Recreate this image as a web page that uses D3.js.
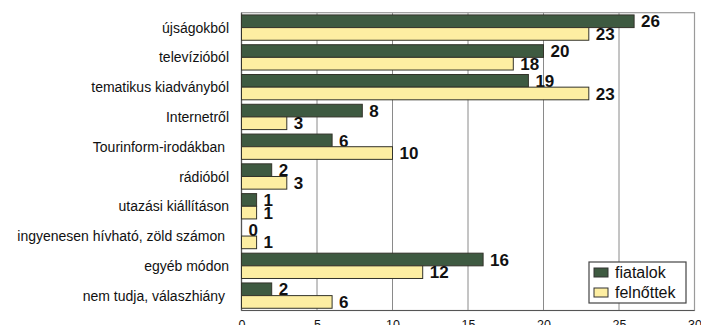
<!DOCTYPE html>
<html>
<head>
<meta charset="utf-8">
<script src="https://cdn.jsdelivr.net/npm/d3@7"></script>
<style>
  html, body { margin: 0; padding: 0; background: #fff; }
  svg { display: block; font-family: "Liberation Sans", Arial, sans-serif; }
  .cat { white-space: pre; }
</style>
</head>
<body>
<svg id="chart" width="701" height="325"></svg>
<script>
// Information sources, young people vs adults
const categories = [
  "újságokból",
  "televízióból",
  "tematikus kiadványból",
  "Internetről",
  "Tourinform-irodákban ",
  "rádióból",
  "utazási kiállításon",
  "ingyenesen hívható, zöld számon ",
  "egyéb módon",
  "nem tudja, válaszhiány "
];
const seriesNames = ["fiatalok", "felnőttek"];
const fiatalok = [26, 20, 19, 8, 6, 2, 1, 0, 16, 2];
const felnottek = [23, 18, 23, 3, 10, 3, 1, 1, 12, 6];
const xTicks = [0, 5, 10, 15, 20, 25, 30];

const colors = ["#3e5a41", "#fdeea2"];
const seriesValues = [fiatalok, felnottek];

const svg = d3.select("#chart");
const plotLeft = 241.5, plotRight = 694.5, plotTop = 12.7, plotBottom = 310.5;

const x = d3.scaleLinear().domain([0, 30]).range([plotLeft, plotRight]);
const y = d3.scaleBand().domain(categories).range([plotTop, plotBottom])
  .paddingInner(0.15).paddingOuter(0.075);
const ySub = d3.scaleBand().domain(seriesNames).range([0, y.bandwidth()]);

// grid lines
svg.append("g")
  .selectAll("line")
  .data(xTicks.filter(t => t > 0 && t < 30))
  .join("line")
  .attr("x1", d => x(d)).attr("x2", d => x(d))
  .attr("y1", plotTop).attr("y2", plotBottom)
  .attr("stroke", "#8a8a8a").attr("stroke-width", 1);

// plot frame
svg.append("rect")
  .attr("x", plotLeft).attr("y", plotTop)
  .attr("width", plotRight - plotLeft).attr("height", plotBottom - plotTop)
  .attr("fill", "none").attr("stroke", "#9a9a9a").attr("stroke-width", 1.2);
svg.append("line")
  .attr("x1", plotLeft).attr("x2", plotLeft).attr("y1", plotTop).attr("y2", plotBottom)
  .attr("stroke", "#555").attr("stroke-width", 1.2);
svg.append("line")
  .attr("x1", plotLeft).attr("x2", plotRight).attr("y1", plotBottom).attr("y2", plotBottom)
  .attr("stroke", "#555").attr("stroke-width", 1.2);

// bars
const groups = svg.append("g").selectAll("g")
  .data(categories)
  .join("g")
  .attr("transform", c => `translate(0,${y(c)})`);

seriesNames.forEach((s, si) => {
  groups.append("rect")
    .attr("x", x(0))
    .attr("y", ySub(s))
    .attr("width", (c, i) => x(seriesValues[si][i]) - x(0))
    .attr("height", ySub.bandwidth())
    .attr("fill", colors[si])
    .attr("stroke", "#33332a")
    .attr("stroke-width", 1);

  groups.append("text")
    .attr("x", (c, i) => x(seriesValues[si][i]) + 7)
    .attr("y", ySub(s) + ySub.bandwidth() / 2)
    .attr("dy", "0.36em")
    .attr("font-size", 17)
    .attr("font-weight", "bold")
    .attr("fill", "#111")
    .text((c, i) => seriesValues[si][i]);
});

// category axis labels
svg.append("g")
  .selectAll("text")
  .data(categories)
  .join("text")
  .attr("class", "cat")
  .attr("x", 229)
  .attr("y", c => y(c) + y.bandwidth() / 2)
  .attr("dy", "0.36em")
  .attr("text-anchor", "end")
  .attr("font-size", 14)
  .attr("fill", "#111")
  .text(c => c);

// value axis
const xAxis = d3.axisBottom(x).tickValues(xTicks).tickSize(0).tickPadding(10);
const gx = svg.append("g").attr("transform", `translate(0,${plotBottom})`).call(xAxis);
gx.select(".domain").remove();
gx.selectAll("text").attr("font-size", 12.5).attr("fill", "#111")
  .attr("font-family", "'Liberation Sans', Arial, sans-serif");

// legend
const lg = svg.append("g");
lg.append("rect")
  .attr("x", 589).attr("y", 262).attr("width", 97).attr("height", 41)
  .attr("fill", "#fff").attr("stroke", "#444").attr("stroke-width", 1.2);
seriesNames.forEach((s, i) => {
  lg.append("rect")
    .attr("x", 594).attr("y", 268 + i * 20).attr("width", 14).attr("height", 9)
    .attr("fill", colors[i]).attr("stroke", "#333").attr("stroke-width", 1);
  lg.append("text")
    .attr("x", 615).attr("y", 278 + i * 20)
    .attr("font-size", 16).attr("fill", "#111")
    .text(s);
});
</script>
</body>
</html>
